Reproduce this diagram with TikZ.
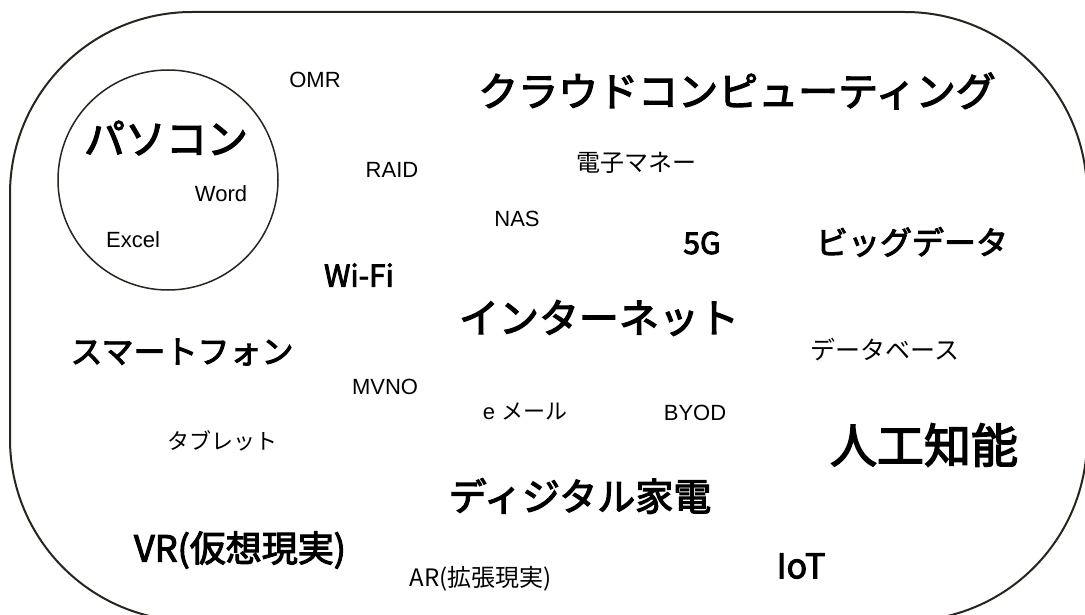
\documentclass[tikz,border=0pt]{standalone}
\usepackage{fontspec}
\setmainfont{Liberation Sans}
\newfontfamily\jp{Noto Sans CJK JP}
\newfontfamily\jpfb{Noto Sans CJK JP}[FakeBold=3]
\definecolor{frame}{RGB}{40,36,30}
\newcommand{\fs}[1]{\fontsize{#1}{#1}\selectfont}
\begin{document}
\begin{tikzpicture}[x=1pt,y=-1pt,
  lat/.style={inner sep=0pt,font=\fs{22}},
  jpn/.style={inner sep=0pt,font=\jp\fs{#1}},
  jpb/.style={inner sep=0pt,font=\jpfb\fs{#1}}]
\useasboundingbox (0,0) rectangle (1085,615);
\begin{scope}
\clip (0,0) rectangle (1085,615);
\draw[frame,line width=2pt,rounded corners=182pt] (10,12) rectangle (1087,621);
\end{scope}
\node[draw=frame,line width=1.5pt,circle,minimum size=220pt,inner sep=0pt] (pc) at (168,180) {};
\node[jpb=41] (pasokon) at (166,138) {パソコン};
\node[lat] (word) at (221,194) {Word};
\node[lat] (excel) at (133,240) {Excel};
\node[lat] (omr) at (315,80) {OMR};
\node[lat] (raid) at (392,170) {RAID};
\node[lat] (nas) at (517,219) {NAS};
\node[lat] (mvno) at (385,387) {MVNO};
\node[lat] (byod) at (695,413) {BYOD};
\node[jpb=40] (cloud) at (737,91) {クラウドコンピューティング};
\node[jpn=24] (emoney) at (636,163) {電子マネー};
\node[jpb=30] (fiveg) at (702,243) {5G};
\node[jpb=32] (bigdata) at (912,242) {ビッグデータ};
\node[jpb=30] (wifi) at (359,275) {Wi-Fi};
\node[jpb=40] (internet) at (599,318) {インターネット};
\node[jpb=32] (smart) at (182,352) {スマートフォン};
\node[jpn=25] (db) at (885,350) {データベース};
\node[inner sep=0pt] (email) at (525,411) {\fs{22}e \jp メール};
\node[jpn=22] (tablet) at (222,441) {タブレット};
\node[jpb=38] (kaden) at (580,496) {ディジタル家電};
\node[jpb=47] (ai) at (924,445) {人工知能};
\node[jpb=36] (vr) at (240,550) {VR(仮想現実)};
\node[jpn=24] (ar) at (481,579) {AR(拡張現実)};
\node[jpb=34] (iot) at (801,566) {IoT};
\end{tikzpicture}
\end{document}
